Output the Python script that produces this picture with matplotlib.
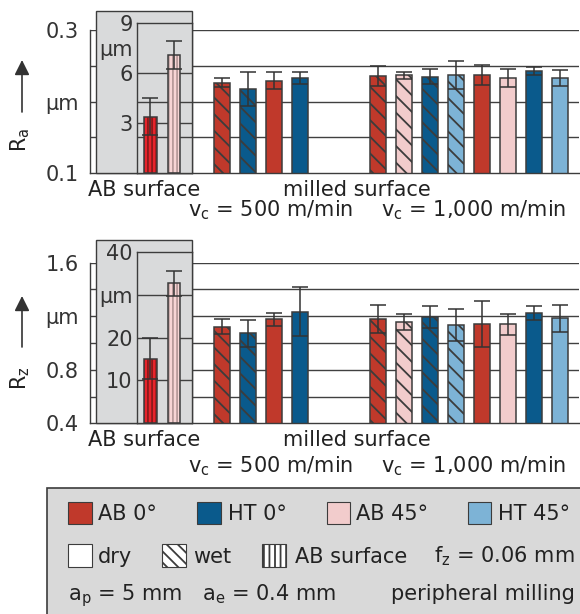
import matplotlib
matplotlib.use('Agg')
import matplotlib.pyplot as plt
from matplotlib.patches import Rectangle, FancyArrowPatch

plt.rcParams['font.family'] = ['DejaVu Sans']
plt.rcParams['font.size'] = 15
plt.rcParams['hatch.linewidth'] = 1.3

# ---- data ----
# bar order: v_c = 500 -> AB0 wet, HT0 wet, AB0 dry, HT0 dry
#            v_c = 1000 -> AB0 wet, AB45 wet, HT0 wet, HT45 wet, AB0 dry, AB45 dry, HT0 dry, HT45 dry
kind_500 = ['AB0', 'HT0', 'AB0', 'HT0']
wet_500 = [True, True, False, False]
kind_1000 = ['AB0', 'AB45', 'HT0', 'HT45', 'AB0', 'AB45', 'HT0', 'HT45']
wet_1000 = [True, True, True, True, False, False, False, False]

ra_500 = [0.2265, 0.218, 0.229, 0.233]
ra_500_err = [0.006, 0.024, 0.012, 0.008]
ra_1000 = [0.236, 0.237, 0.235, 0.237, 0.237, 0.233, 0.243, 0.233]
ra_1000_err = [0.0135, 0.005, 0.010, 0.020, 0.014, 0.013, 0.006, 0.011]
ra_ab = [3.4, 7.1]          # AB surface, µm (inset scale)
ra_ab_err = [1.1, 0.86]

rz_500 = [1.122, 1.072, 1.177, 1.232]
rz_500_err = [0.055, 0.10, 0.047, 0.183]
rz_1000 = [1.181, 1.157, 1.192, 1.137, 1.142, 1.14, 1.226, 1.185]
rz_1000_err = [0.105, 0.057, 0.083, 0.12, 0.169, 0.077, 0.052, 0.10]
rz_ab = [15.1, 32.6]
rz_ab_err = [4.7, 3.0]

x_500 = [0, 1, 2, 3]
x_1000 = [6, 7, 8, 9, 10, 11, 12, 13]
x_ab = [0.53, 1.44]

ra_ticks = [0.1, 0.15, 0.2, 0.25, 0.3]
ra_labels = ['0.1', '', 'µm', '', '0.3']
rz_ticks = [0.4, 0.6, 0.8, 1.0, 1.2, 1.4, 1.6]
rz_labels = ['0.4', '', '0.8', '', 'µm', '', '1.6']
ra_in_ticks = [3, 6, 7.5, 9]
ra_in_labels = ['3', '6', 'µm', '9']
rz_in_ticks = [10, 20, 30, 40]
rz_in_labels = ['10', '20', 'µm', '40']

colors = {'AB0': '#c0392b', 'HT0': '#0a5a8c', 'AB45': '#f2cccc', 'HT45': '#7db3d6'}
ab_face = ['#e8232b', '#f7d4d4']
ab_stripe = ['#8b1a1a', '#b89a9a']
edge = '#3c3c3c'
gridc = '#404040'
boxgray = '#d9dadb'

W, H = 580, 614
fig = plt.figure(figsize=(W / 100, H / 100), dpi=100)


def rect(l, t, r, b):
    return [l / W, 1 - b / H, (r - l) / W, (b - t) / H]


def fxy(x, y):
    return (x / W, 1 - y / H)


def panel(top, bottom, box_top, in_top, ylim, ticks, labels,
          in_ylim, in_ticks, in_labels, in_grid, vals5, err5, vals10, err10,
          ab, ab_err, ylab, txt_y1, txt_y2, arrow_y, ylab_y):
    ax = fig.add_axes(rect(90, top, 579, bottom))
    ax.set_xlim(-5.077, 13.73)
    ax.set_ylim(*ylim)
    for s in ['top', 'right']:
        ax.spines[s].set_visible(False)
    for s in ['left', 'bottom']:
        ax.spines[s].set_color(edge)
        ax.spines[s].set_linewidth(1.0)
    ax.set_xticks([])
    ax.set_yticks(ticks, labels)
    ax.tick_params(axis='y', length=0, pad=8, colors='#333333')
    for v in ticks[1:]:
        ax.axhline(v, color=gridc, lw=1.0, zorder=0.5)

    for xs, ks, ws, vs, es in [(x_500, kind_500, wet_500, vals5, err5),
                               (x_1000, kind_1000, wet_1000, vals10, err10)]:
        for x, k, w, v, e in zip(xs, ks, ws, vs, es):
            ax.bar(x, v, width=0.6, color=colors[k], edgecolor=edge, lw=1.1,
                   hatch='\\\\' if w else None, zorder=2)
            ax.errorbar(x, v, yerr=e, color='#333333', lw=1.1, capsize=5.5,
                        capthick=1.1, zorder=3)

    # gray box for the AB surface
    fig.add_artist(Rectangle(fxy(96, bottom), 95.6 / W, (bottom - box_top) / H,
                             transform=fig.transFigure, fc=boxgray, ec=edge,
                             lw=1.0, zorder=1))

    ia = fig.add_axes(rect(136.7, in_top, 191.6, bottom))
    ia.set_zorder(2)
    ia.set_facecolor(boxgray)
    ia.set_xlim(0, 55 / 26)
    ia.set_ylim(*in_ylim)
    for s in ia.spines.values():
        s.set_color(edge)
        s.set_linewidth(1.0)
    ia.set_xticks([])
    ia.set_yticks(in_ticks, in_labels)
    ia.tick_params(axis='y', length=0, pad=3, colors='#333333')
    for v in in_grid:
        ia.axhline(v, color=gridc, lw=1.0, zorder=0.5)
    for i in range(2):
        ia.bar(x_ab[i], ab[i], width=0.48, color=ab_face[i], edgecolor=ab_stripe[i],
               lw=0, hatch='||||', zorder=2)
        ia.bar(x_ab[i], ab[i], width=0.48, fill=False, edgecolor=edge, lw=1.1, zorder=2)
        ia.errorbar(x_ab[i], ab[i], yerr=ab_err[i], color='#333333', lw=1.1,
                    capsize=5.5, capthick=1.1, zorder=3)

    # labels below
    fig.text(*fxy(144, txt_y1), 'AB surface', ha='center', va='baseline', color='#222222')
    fig.text(*fxy(357, txt_y1), 'milled surface', ha='center', va='baseline', color='#222222')
    fig.text(*fxy(271, txt_y2), r'v$_\mathrm{c}$ = 500 m/min', ha='center', va='baseline', color='#222222')
    fig.text(*fxy(474, txt_y2), r'v$_\mathrm{c}$ = 1,000 m/min', ha='center', va='baseline', color='#222222')

    # y label with arrow
    fig.add_artist(FancyArrowPatch(fxy(22, arrow_y[0]), fxy(22, arrow_y[1]),
                                   transform=fig.transFigure,
                                   arrowstyle='-|>,head_length=0.9,head_width=0.45',
                                   mutation_scale=10, color='#333333', lw=1.2,
                                   shrinkA=0, shrinkB=0))
    fig.text(*fxy(20, ylab_y), ylab, rotation=90, ha='center', va='center', color='#222222')


panel(30, 173.3, 11, 23.3, (0.1, 0.3), ra_ticks, ra_labels,
      (0, 9), ra_in_ticks, ra_in_labels, [3, 6, 4.3, 2.15],
      ra_500, ra_500_err, ra_1000, ra_1000_err, ra_ab, ra_ab_err,
      r'R$_\mathrm{a}$', 196, 216, (112, 60), 140)

panel(262.7, 423.3, 240, 251.7, (0.4, 1.6), rz_ticks, rz_labels,
      (0, 40), rz_in_ticks, rz_in_labels, [10, 20, 30],
      rz_500, rz_500_err, rz_1000, rz_1000_err, rz_ab, rz_ab_err,
      r'R$_\mathrm{z}$', 446.5, 472.5, (347, 296), 378)

# ---- legend box ----
fig.add_artist(Rectangle(fxy(46.7, 620), 560 / W, (620 - 488.3) / H,
                         transform=fig.transFigure, fc='#d9d9d9', ec=edge, lw=1.2, zorder=1))

leg_row1 = [('AB 0°', 'AB0', 68.3, 98.3), ('HT 0°', 'HT0', 197, 228),
            ('AB 45°', 'AB45', 326.5, 356), ('HT 45°', 'HT45', 468, 498)]
for txt, k, xs, xt in leg_row1:
    fig.add_artist(Rectangle(fxy(xs, 524), 23.5 / W, 22.3 / H, transform=fig.transFigure,
                             fc=colors[k], ec=edge, lw=0.8, zorder=2))
    fig.text(*fxy(xt, 520), txt, va='baseline', color='#222222', zorder=3)

leg_row2 = [('dry', None, 68.3, 98.3), ('wet', '\\\\\\', 162, 193), ('AB surface', '|||', 262, 294.8)]
for txt, h, xs, xt in leg_row2:
    fig.add_artist(Rectangle(fxy(xs, 566.7), 23.5 / W, 22.7 / H, transform=fig.transFigure,
                             fc='white', ec=edge, lw=0.8, hatch=h, zorder=2))
    fig.text(*fxy(xt, 562.7), txt, va='baseline', color='#222222', zorder=3)
fig.text(*fxy(575, 562.7), r'f$_\mathrm{z}$ = 0.06 mm', ha='right', va='baseline',
         color='#222222', zorder=3)

fig.text(*fxy(68.3, 600), r'a$_\mathrm{p}$ = 5 mm', va='baseline', color='#222222', zorder=3)
fig.text(*fxy(201.5, 600), r'a$_\mathrm{e}$ = 0.4 mm', va='baseline', color='#222222', zorder=3)
fig.text(*fxy(575, 600), 'peripheral milling', ha='right', va='baseline', color='#222222', zorder=3)

fig.savefig('out.png', dpi=100)
